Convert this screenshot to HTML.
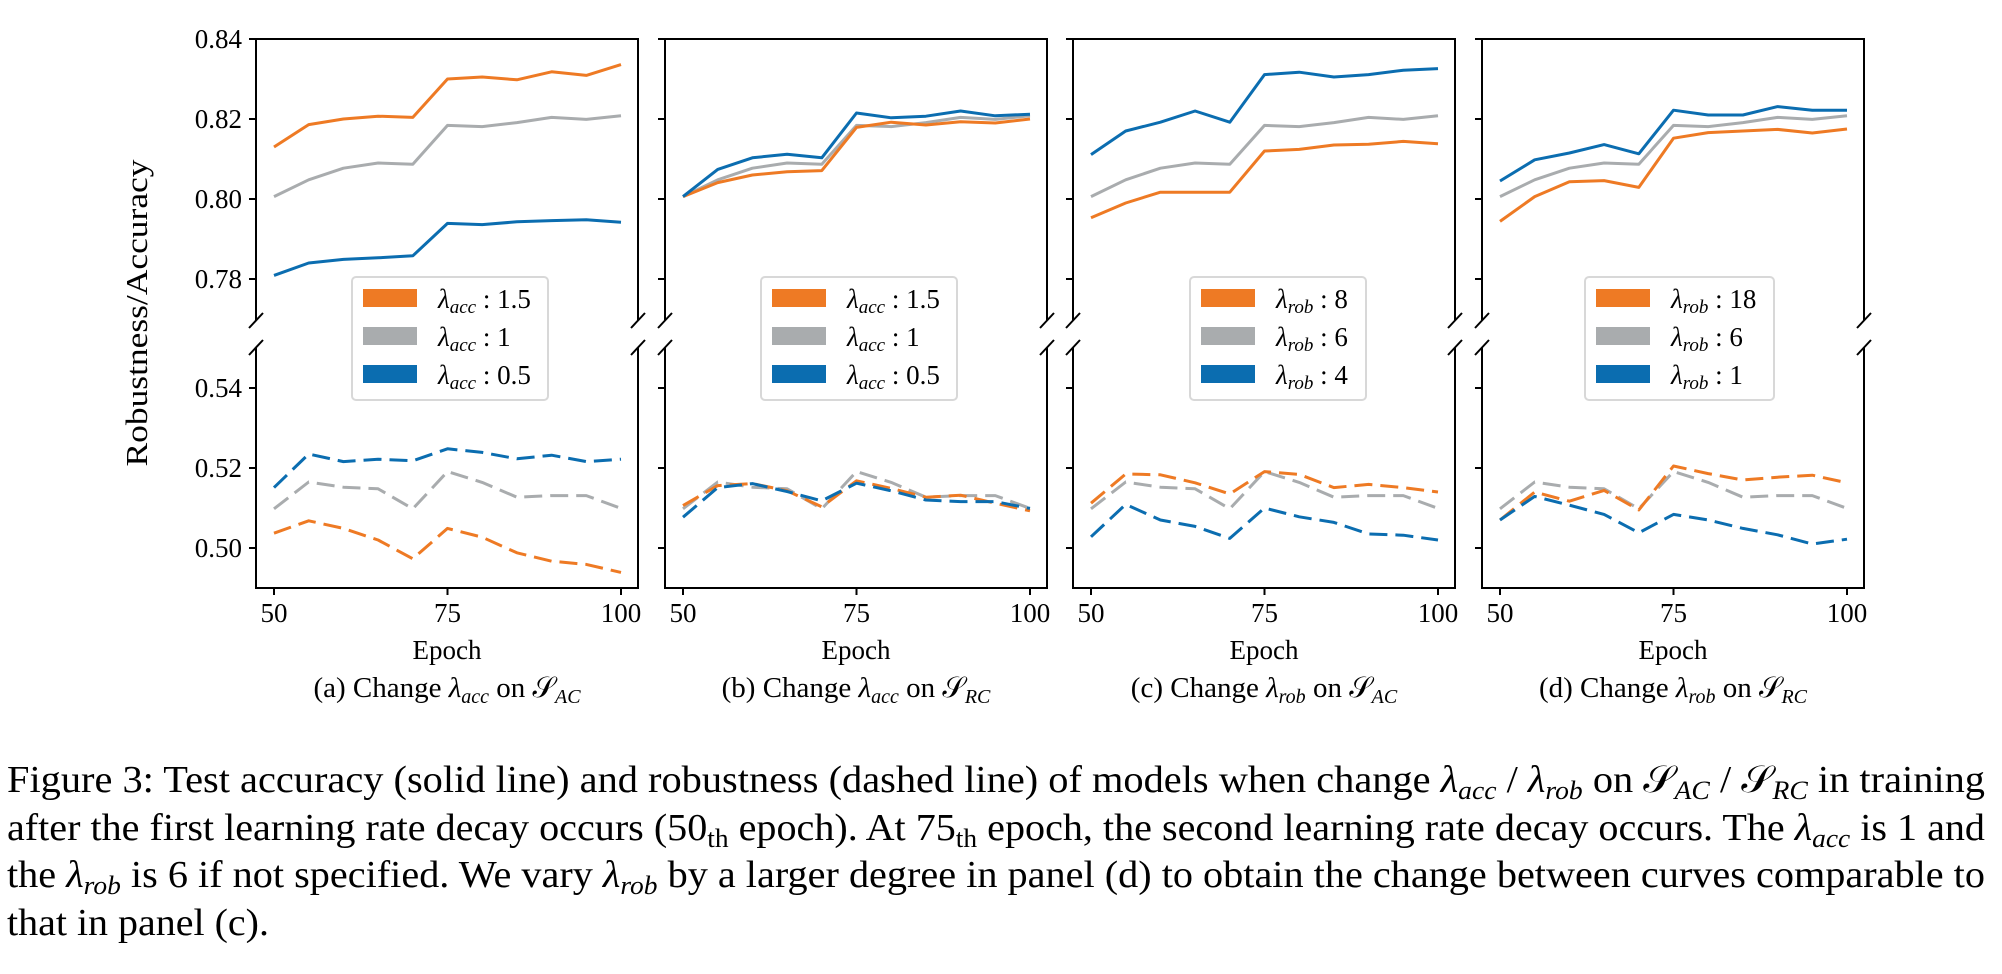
<!DOCTYPE html>
<html><head><meta charset="utf-8"><style>
html,body{margin:0;padding:0;background:#fff;}
svg{display:block;}
text{font-family:"Liberation Serif",serif;fill:#000;}
</style></head>
<body>
<svg id="fig" width="2002" height="974" viewBox="0 0 2002 974" xmlns="http://www.w3.org/2000/svg">
<text transform="translate(147,313) rotate(-90)" text-anchor="middle" font-size="31" textLength="307" lengthAdjust="spacingAndGlyphs">Robustness/Accuracy</text>
<g font-size="38">
<text x="7" y="792" textLength="1978" lengthAdjust="spacingAndGlyphs">Figure 3: Test accuracy (solid line) and robustness (dashed line) of models when change <tspan font-style="italic">λ</tspan><tspan font-style="italic" font-size="26" dy="7">acc</tspan><tspan dy="-7"> / </tspan><tspan font-style="italic">λ</tspan><tspan font-style="italic" font-size="26" dy="7">rob</tspan><tspan dy="-7"> on 𝒮</tspan><tspan font-style="italic" font-size="26" dy="7">AC</tspan><tspan dy="-7"> / 𝒮</tspan><tspan font-style="italic" font-size="26" dy="7">RC</tspan><tspan dy="-7"> in training</tspan></text>
<text x="7" y="840" textLength="1978" lengthAdjust="spacingAndGlyphs">after the first learning rate decay occurs (50<tspan font-size="26" dy="7">th</tspan><tspan dy="-7"> epoch). At 75</tspan><tspan font-size="26" dy="7">th</tspan><tspan dy="-7"> epoch, the second learning rate decay occurs. The </tspan><tspan font-style="italic">λ</tspan><tspan font-style="italic" font-size="26" dy="7">acc</tspan><tspan dy="-7"> is 1 and</tspan></text>
<text x="7" y="887" textLength="1978" lengthAdjust="spacingAndGlyphs">the <tspan font-style="italic">λ</tspan><tspan font-style="italic" font-size="26" dy="7">rob</tspan><tspan dy="-7"> is 6 if not specified. We vary </tspan><tspan font-style="italic">λ</tspan><tspan font-style="italic" font-size="26" dy="7">rob</tspan><tspan dy="-7"> by a larger degree in panel (d) to obtain the change between curves comparable to</tspan></text>
<text x="7" y="935" textLength="262" lengthAdjust="spacingAndGlyphs">that in panel (c).</text>
</g>
</svg>
<script>
const epochs = [50,55,60,65,70,75,80,85,90,95,100];
const xTicks = [50,75,100];
const upperTicks = [0.78,0.80,0.82,0.84];
const lowerTicks = [0.50,0.52,0.54];
const upperTickLabels = ["0.78","0.80","0.82","0.84"];
const lowerTickLabels = ["0.50","0.52","0.54"];
// baseline (gray) shared
const grayAcc = [0.8006,0.8048,0.8077,0.8090,0.8087,0.8184,0.8181,0.8191,0.8204,0.8199,0.8208];
const grayRob = [0.5098,0.5165,0.5152,0.5148,0.5098,0.5191,0.5164,0.5127,0.5131,0.5131,0.5099];
// panel a
const aOrangeAcc = [0.8130,0.8186,0.8200,0.8207,0.8204,0.8300,0.8305,0.8298,0.8318,0.8309,0.8336];
const aBlueAcc = [0.7809,0.7840,0.7849,0.7853,0.7858,0.7939,0.7936,0.7943,0.7946,0.7948,0.7942];
const aOrangeRob = [0.5037,0.5068,0.5049,0.5020,0.4973,0.5049,0.5027,0.4988,0.4967,0.4959,0.4939];
const aBlueRob = [0.5151,0.5235,0.5216,0.5222,0.5218,0.5248,0.5239,0.5223,0.5232,0.5216,0.5222];
// panel b
const bOrangeAcc = [0.8006,0.8041,0.8060,0.8068,0.8071,0.8179,0.8192,0.8185,0.8193,0.8190,0.8200];
const bBlueAcc = [0.8006,0.8074,0.8103,0.8112,0.8103,0.8215,0.8203,0.8207,0.8220,0.8208,0.8212];
const bOrangeRob = [0.5106,0.5156,0.5161,0.5143,0.5103,0.5168,0.5149,0.5127,0.5132,0.5112,0.5093];
const bBlueRob = [0.5077,0.5151,0.5161,0.5141,0.5118,0.5162,0.5143,0.5120,0.5116,0.5116,0.5099];
// panel c
const cOrangeAcc = [0.7953,0.7990,0.8017,0.8017,0.8017,0.8120,0.8124,0.8135,0.8137,0.8144,0.8138];
const cBlueAcc = [0.8111,0.8170,0.8192,0.8220,0.8192,0.8311,0.8317,0.8305,0.8311,0.8322,0.8326];
const cOrangeRob = [0.5112,0.5185,0.5183,0.5163,0.5135,0.5191,0.5184,0.5151,0.5159,0.5151,0.5140];
const cBlueRob = [0.5028,0.5109,0.5070,0.5054,0.5024,0.5100,0.5078,0.5064,0.5035,0.5032,0.5020];
// panel d
const dOrangeAcc = [0.7944,0.8006,0.8043,0.8046,0.8029,0.8152,0.8166,0.8170,0.8174,0.8165,0.8175];
const dBlueAcc = [0.8045,0.8098,0.8115,0.8136,0.8113,0.8222,0.8210,0.8210,0.8231,0.8222,0.8222];
const dOrangeRob = [0.5070,0.5140,0.5117,0.5144,0.5095,0.5205,0.5186,0.5170,0.5177,0.5182,0.5163];
const dBlueRob = [0.5070,0.5129,0.5107,0.5084,0.5038,0.5084,0.5070,0.5049,0.5033,0.5010,0.5022];
const legendValues = [["1.5","1","0.5"],["1.5","1","0.5"],["8","6","4"],["18","6","1"]];
const legendSub = ["acc","acc","rob","rob"];
const panelNames = ["a","b","c","d"];

const NS = "http://www.w3.org/2000/svg";
const svg = document.getElementById("fig");
const ORANGE = "#ee7a24", GRAY = "#a9acae", BLUE = "#0b6db0";
const panelLeft = [256,665,1073,1482];
const legendBox = [[96,196],[96,196],[117,176],[103,189]];
const W = 382, TOP = 39, UBOT = 320, LTOP = 347, LBOT = 588;
function el(tag, attrs, parent){const e=document.createElementNS(NS,tag);for(const k in attrs)e.setAttribute(k,attrs[k]);(parent||svg).appendChild(e);return e;}
function xs(p,e){return panelLeft[p]+18+(e-50)*(347/50);}
function yu(v){return TOP+(0.84-v)*4000;}
function yl(v){return 548-(v-0.50)*4000;}

const series = [
 [aOrangeAcc,aBlueAcc,aOrangeRob,aBlueRob],
 [bOrangeAcc,bBlueAcc,bOrangeRob,bBlueRob],
 [cOrangeAcc,cBlueAcc,cOrangeRob,cBlueRob],
 [dOrangeAcc,dBlueAcc,dOrangeRob,dBlueRob]];
const subcap = [["acc","AC"],["acc","RC"],["rob","AC"],["rob","RC"]];

for(let p=0;p<4;p++){
  const L=panelLeft[p], R=L+W;
  const g=el("g",{});
  
  
  function line(arr, yf, color, dashed, name){
    const pts=arr.map((v,i)=>xs(p,epochs[i]).toFixed(1)+","+yf(v).toFixed(1)).join(" ");
    const pl=el("polyline",{points:pts,fill:"none",stroke:color,"stroke-width":3,"stroke-linejoin":"round"},g);
    if(dashed) pl.setAttribute("stroke-dasharray","18 8");
    
    
  }
  const s=series[p];
  line(grayAcc,yu,GRAY,false,'gray-accuracy-line');
  line(s[0],yu,ORANGE,false,'orange-accuracy-line');
  line(s[1],yu,BLUE,false,'blue-accuracy-line');
  line(grayRob,yl,GRAY,true,'gray-robustness-line');
  line(s[2],yl,ORANGE,true,'orange-robustness-line');
  line(s[3],yl,BLUE,true,'blue-robustness-line');
  const sp={stroke:"#000","stroke-width":2,fill:"none"};
  el("path",Object.assign({d:`M${L},${UBOT}V${TOP}H${R}V${UBOT}`},sp),g);
  el("path",Object.assign({d:`M${L},${LTOP}V${LBOT}H${R}V${LTOP}`},sp),g);
  for(const x of [L,R]){
    el("line",Object.assign({x1:x-7,y1:UBOT+8,x2:x+7,y2:UBOT-7},sp),g);
    el("line",Object.assign({x1:x-7,y1:LTOP+8,x2:x+7,y2:LTOP-7},sp),g);
  }
  upperTicks.forEach((v,i)=>{
    el("line",{x1:L-7,x2:L,y1:yu(v),y2:yu(v),stroke:"#000","stroke-width":2},g);
    if(p===0){const t=el("text",{x:L-14,y:yu(v)+9,"text-anchor":"end","font-size":27},g);t.textContent=upperTickLabels[i];
      
      }
  });
  lowerTicks.forEach((v,i)=>{
    el("line",{x1:L-7,x2:L,y1:yl(v),y2:yl(v),stroke:"#000","stroke-width":2},g);
    if(p===0){const t=el("text",{x:L-14,y:yl(v)+9,"text-anchor":"end","font-size":27},g);t.textContent=lowerTickLabels[i];
      
      }
  });
  xTicks.forEach(e=>{
    el("line",{x1:xs(p,e),x2:xs(p,e),y1:LBOT,y2:LBOT+7,stroke:"#000","stroke-width":2},g);
    const t=el("text",{x:xs(p,e),y:622,"text-anchor":"middle","font-size":27},g);t.textContent=e;
    
    
  });
  const xt=el("text",{x:L+191,y:659,"text-anchor":"middle","font-size":27},g);xt.textContent="Epoch";
  
  
  const sc=el("text",{x:L+191,y:697,"text-anchor":"middle","font-size":29},g);
  sc.innerHTML=`(${panelNames[p]}) Change <tspan font-style="italic">λ</tspan><tspan font-style="italic" font-size="20" dy="6">${subcap[p][0]}</tspan><tspan dy="-6"> on 𝒮</tspan><tspan font-style="italic" font-size="20" dy="6">${subcap[p][1]}</tspan>`;
  
  
  const lg=el("g",{},g);
  
  
  const bx=L+legendBox[p][0], bw=legendBox[p][1];
  el("rect",{x:bx,y:277,width:bw,height:123,rx:4,fill:"#fff",stroke:"#d8d8d8","stroke-width":2},lg);
  [ORANGE,GRAY,BLUE].forEach((c,i)=>{
    const cy=298+i*38;
    el("rect",{x:bx+11,y:cy-9,width:54,height:18,fill:c},lg);
    const t=el("text",{x:bx+86,y:cy+10,"font-size":27},lg);
    t.innerHTML=`<tspan font-style="italic">λ</tspan><tspan font-style="italic" font-size="19" dy="5">${legendSub[p]}</tspan><tspan dy="-5"> : ${legendValues[p][i]}</tspan>`;
    
    
  });
}
</script>
</body></html>
